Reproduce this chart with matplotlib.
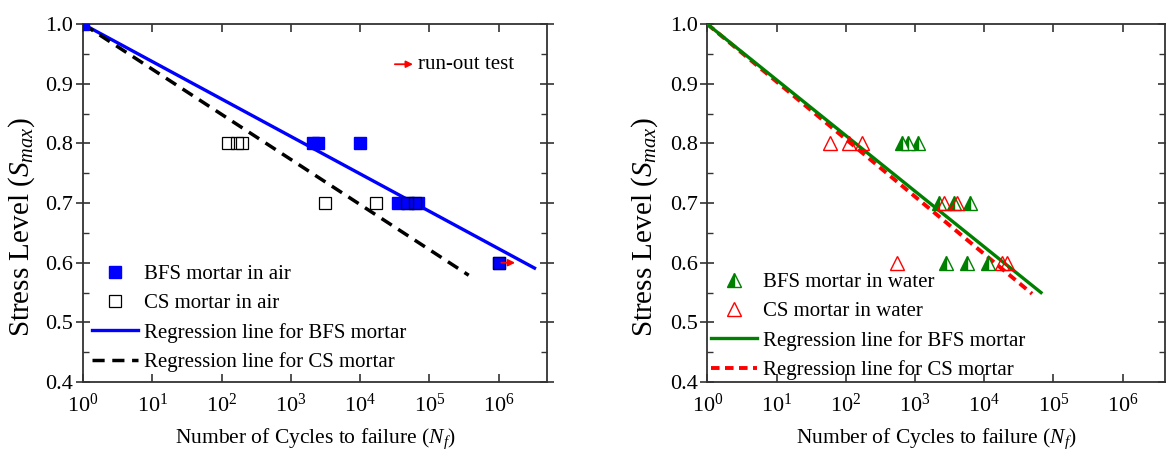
import numpy as np
import matplotlib
matplotlib.use("Agg")
import matplotlib.pyplot as plt
from matplotlib.ticker import MultipleLocator, FixedLocator, NullLocator, LogFormatterMathtext, FormatStrFormatter

plt.rcParams['font.family'] = ['Liberation Serif', 'DejaVu Serif']
plt.rcParams['mathtext.fontset'] = 'custom'
plt.rcParams['mathtext.rm'] = 'Liberation Serif'
plt.rcParams['mathtext.it'] = 'Liberation Serif:italic'
plt.rcParams['font.size'] = 15

# --- data ---
x_ticks = [1, 1e1, 1e2, 1e3, 1e4, 1e5, 1e6]

# left: specimens tested in air
bfs_air_N = [1, 2100, 2500, 10000, 35000, 50000, 68000, 1e6]
bfs_air_S = [1.0, 0.8, 0.8, 0.8, 0.7, 0.7, 0.7, 0.6]
cs_air_N = [125, 165, 200, 3100, 17000, 47000, 62000, 1e6]
cs_air_S = [0.8, 0.8, 0.8, 0.7, 0.7, 0.7, 0.7, 0.6]
bfs_air_fit_N = [1, 3.3e6]
bfs_air_fit_S = [1.0, 0.591]
cs_air_fit_N = [1, 3.7e5]
cs_air_fit_S = [1.0, 0.579]
runout_N = [1e6]
runout_S = [0.6]

# right: specimens tested in water
bfs_water_N = [650, 800, 1100, 2200, 3600, 6300, 2800, 5600, 11200]
bfs_water_S = [0.8, 0.8, 0.8, 0.7, 0.7, 0.7, 0.6, 0.6, 0.6]
cs_water_N = [60, 110, 170, 2600, 4000, 550, 18000, 21000]
cs_water_S = [0.8, 0.8, 0.8, 0.7, 0.7, 0.6, 0.6, 0.6]
bfs_water_fit_N = [1, 6.6e4]
bfs_water_fit_S = [1.0, 0.550]
cs_water_fit_N = [1, 4.9e4]
cs_water_fit_S = [1.0, 0.548]

spine_col = '#333333'


def style_axes(ax, xmax, ylab_x):
    ax.set_xscale('log')
    ax.set_xlim(1, xmax)
    ax.set_ylim(0.4, 1.0)
    ax.xaxis.set_major_locator(FixedLocator(x_ticks))
    ax.xaxis.set_minor_locator(NullLocator())
    ax.xaxis.set_major_formatter(LogFormatterMathtext())
    ax.yaxis.set_major_locator(MultipleLocator(0.1))
    ax.yaxis.set_minor_locator(MultipleLocator(0.05))
    ax.yaxis.set_major_formatter(FormatStrFormatter('%.1f'))
    ax.tick_params(axis='x', which='major', direction='in', length=6, width=1.2,
                   top=True, bottom=True, color=spine_col, labelsize=16, pad=8)
    ax.tick_params(axis='y', which='major', direction='inout', length=10, width=1.2,
                   left=True, right=True, color=spine_col, labelsize=16, pad=2)
    ax.tick_params(axis='y', which='minor', direction='in', length=4, width=1.0,
                   left=True, right=True, color=spine_col)
    for s in ax.spines.values():
        s.set_color(spine_col)
        s.set_linewidth(1.3)
    ax.set_xlabel(r'Number of Cycles to failure ($N_f$)', fontsize=15.5, labelpad=7)
    ax.set_ylabel(r'Stress Level ($S_{max}$)', fontsize=21)
    ax.yaxis.set_label_coords(ylab_x, 0.433)


fig = plt.figure(figsize=(11.66, 4.53), dpi=100)
ax1 = fig.add_axes([0.0712, 0.1567, 0.398, 0.790])
ax2 = fig.add_axes([0.6066, 0.1567, 0.3925, 0.790])

# left panel
ax1.plot(bfs_air_fit_N, bfs_air_fit_S, color='#0000ff', lw=2.4, zorder=2,
         label='Regression line for BFS mortar')
ax1.plot(cs_air_fit_N, cs_air_fit_S, color='black', lw=2.5, dashes=(3.5, 2.2), zorder=2,
         label='Regression line for CS mortar')
ax1.plot(bfs_air_N, bfs_air_S, 's', ms=9, color='#0000ff', mec='#0000ff', zorder=3,
         label='BFS mortar in air')
ax1.plot(cs_air_N, cs_air_S, 's', ms=9, mfc='none', mec='black', mew=0.9, zorder=4,
         label='CS mortar in air')
for n, s in zip(runout_N, runout_S):
    ax1.annotate('', xy=(n * 1.9, s), xytext=(n, s),
                 arrowprops=dict(arrowstyle='-|>', color='red', lw=1.3, mutation_scale=10),
                 zorder=5)
ax1.text(0.722, 0.888, 'run-out test', transform=ax1.transAxes, va='center', fontsize=15)
ax1.annotate('', xy=(0.711, 0.888), xytext=(0.672, 0.888), xycoords='axes fraction',
             arrowprops=dict(arrowstyle='-|>', color='red', lw=1.3, mutation_scale=10,
                             shrinkA=0, shrinkB=0))

h, l = ax1.get_legend_handles_labels()
order = [2, 3, 0, 1]
ax1.legend([h[i] for i in order], [l[i] for i in order], loc='lower left',
           bbox_to_anchor=(0.019, 0.028), frameon=False, borderpad=0, borderaxespad=0,
           handlelength=2.2, handletextpad=0.3, labelspacing=0.45, numpoints=1, fontsize=15)
style_axes(ax1, 10 ** 6.70, -0.099)

# right panel
ax2.plot(bfs_water_fit_N, bfs_water_fit_S, color='#008000', lw=2.4, zorder=3,
         label='Regression line for BFS mortar')
ax2.plot(cs_water_fit_N, cs_water_fit_S, color='#ff0000', lw=2.8, dashes=(2.2, 1.4), zorder=2,
         label='Regression line for CS mortar')
ax2.plot(bfs_water_N, bfs_water_S, '^', ms=10, color='#008000', mec='#008000',
         fillstyle='left', mfc='#008000', mfcalt='white', mew=1.0, zorder=4,
         label='BFS mortar in water')
ax2.plot(cs_water_N, cs_water_S, '^', ms=10, mfc='none', mec='#ff0000', mew=1.0, zorder=4,
         label='CS mortar in water')
h, l = ax2.get_legend_handles_labels()
ax2.legend([h[i] for i in order], [l[i] for i in order], loc='lower left',
           bbox_to_anchor=(0.008, 0.006), frameon=False, borderpad=0, borderaxespad=0,
           handlelength=2.2, handletextpad=0.3, labelspacing=0.45, numpoints=1, fontsize=15)
style_axes(ax2, 10 ** 6.61, -0.103)

fig.savefig('out.png', dpi=100)
